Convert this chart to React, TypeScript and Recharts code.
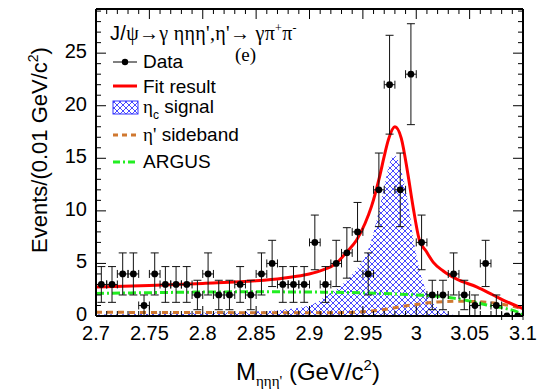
import React from 'react'
import { ComposedChart, XAxis, YAxis, Line, Area, Scatter, ErrorBar } from 'recharts'

// measured data (bin width 0.01 GeV/c^2)
const binCenters = [
    2.705, 2.715, 2.725, 2.735, 2.745, 2.755, 2.765, 2.775, 2.785, 2.795,
    2.805, 2.815, 2.825, 2.835, 2.845, 2.855, 2.865, 2.875, 2.885, 2.895,
    2.905, 2.915, 2.925, 2.935, 2.945, 2.955, 2.965, 2.975, 2.985, 2.995,
    3.005, 3.015, 3.025, 3.035, 3.045, 3.055, 3.065, 3.075, 3.085, 3.095
]
const counts = [
    3, 3, 4, 4, 1, 4, 3, 3, 3, 2,
    4, 2, 2, 3, 2, 4, 5, 3, 3, 3,
    7, 3, 5, 6, 8, 4, 12, 22, 12, 23,
    7, 2, 2, 4, 2, 1, 5, 1, 0, 0
]
const countErrors = [
    1.7, 1.7, 2, 2, 1, 2, 1.7, 1.7, 1.7, 1.4,
    2, 1.4, 1.4, 1.7, 1.4, 2, 2.2, 1.7, 1.7, 1.7,
    2.6, 1.7, 2.2, 2.4, 2.8, 2, 3.5, 4.7, 3.5, 4.8,
    2.6, 1.4, 1.4, 2, 1.4, 1, 2.2, 1, 0, 0
]
const binHalfWidth = 0.005

// fit components
const fitX = [2.7, 2.75, 2.8, 2.85, 2.875, 2.895, 2.91, 2.925, 2.935, 2.944, 2.952, 2.958, 2.966, 2.97, 2.974, 2.98, 2.986, 2.992, 2.997, 3.003, 3.009, 3.016, 3.025, 3.038, 3.057, 3.072, 3.085, 3.1]
const fitY = [2.75, 2.9, 3.1, 3.35, 3.6, 3.9, 4.3, 5.0, 6.1, 7.2, 8.8, 10.4, 13.4, 15.2, 16.8, 18.0, 16.9, 13.6, 10.4, 7.2, 6.2, 5.1, 4.3, 3.5, 2.75, 2.0, 1.35, 0.7]

const signalX = [2.7, 2.75, 2.8, 2.84, 2.875, 2.9, 2.92, 2.935, 2.945, 2.952, 2.958, 2.965, 2.97, 2.975, 2.979, 2.983, 2.9865, 2.993, 2.9975, 3.004, 3.01, 3.019, 3.027, 3.035, 3.05, 3.1]
const signalY = [0.15, 0.2, 0.3, 0.4, 0.6, 1.0, 2.2, 3.4, 4.6, 5.6, 7.2, 10.0, 12.3, 14.5, 15.3, 14.8, 13.6, 10.4, 7.2, 4.1, 2.2, 0.9, 0.4, 0.1, 0, 0]

const sidebandX = [2.7, 2.8, 2.9, 2.93, 2.95, 2.97, 2.985, 3.0, 3.02, 3.04, 3.06, 3.08, 3.1]
const sidebandY = [0.35, 0.33, 0.3, 0.32, 0.4, 0.62, 0.88, 1.1, 1.33, 1.4, 1.35, 1.12, 0.7]

const argusX = [2.7, 2.75, 2.8, 2.85, 2.9, 2.95, 3.0, 3.02, 3.035, 3.05, 3.066, 3.085, 3.095, 3.1]
const argusY = [2.15, 2.22, 2.28, 2.3, 2.28, 2.2, 2.0, 1.88, 1.7, 1.42, 1.05, 0.68, 0.38, 0.05]

const xMajorTicks = [2.7, 2.75, 2.8, 2.85, 2.9, 2.95, 3.0, 3.05, 3.1]
const xTickLabels = ['2.7', '2.75', '2.8', '2.85', '2.9', '2.95', '3', '3.05', '3.1']
const yMajorTicks = [0, 5, 10, 15, 20, 25]
const yTickLabels = ['0', '5', '10', '15', '20', '25']

const X_DOMAIN: [number, number] = [2.7, 3.1]
const Y_DOMAIN: [number, number] = [0, 29.2]

// minor ticks every 0.01 in x and every 1 in y
const xTicks = Array.from({ length: 41 }, (_, i) => Math.round((2.7 + i * 0.01) * 1000) / 1000)
const yTicks = Array.from({ length: 30 }, (_, i) => i)

const SANS = '"Liberation Sans", Arial, Helvetica, sans-serif'
const SERIF = '"Liberation Serif", "Times New Roman", serif'
const RED = '#ff0000'
const ORANGE = '#d07830'
const GREEN = '#22ee22'
const BLUE = '#3535ff'

type Row = { x: number; fit?: number; signal?: number; sideband?: number; argus?: number }

function buildCurveRows(): Row[] {
    const rows = new Map<number, Row>()
    const put = (xs: number[], ys: number[], key: 'fit' | 'signal' | 'sideband' | 'argus') => {
        xs.forEach((x, i) => {
            const r = rows.get(x) ?? { x }
            r[key] = ys[i]
            rows.set(x, r)
        })
    }
    put(fitX, fitY, 'fit')
    put(signalX, signalY, 'signal')
    put(sidebandX, sidebandY, 'sideband')
    put(argusX, argusY, 'argus')
    return [...rows.values()].sort((a, b) => a.x - b.x)
}

const curveRows = buildCurveRows()
const points = binCenters.map((x, i) => ({ x, y: counts[i], ey: countErrors[i], ex: binHalfWidth }))

function renderXTick(props: any, side: 'bottom' | 'top') {
    const { x, y, payload } = props
    const v = payload.value
    const majorIdx = xMajorTicks.findIndex(t => Math.abs(t - v) < 1e-6)
    const len = majorIdx >= 0 ? 10 : 5
    const dir = side === 'bottom' ? -1 : 1
    return (
        <g>
            <line x1={x} x2={x} y1={y} y2={y + dir * len} stroke="#000" strokeWidth={1} />
            {side === 'bottom' && majorIdx >= 0 && (
                <text x={x} y={y + 24} textAnchor="middle" fontSize={20} fontFamily={SANS} fill="#000">
                    {xTickLabels[majorIdx]}
                </text>
            )}
        </g>
    )
}

function renderYTick(props: any, side: 'left' | 'right') {
    const { x, y, payload } = props
    const v = payload.value
    const majorIdx = yMajorTicks.indexOf(v)
    const len = majorIdx >= 0 ? 10 : 5
    const dir = side === 'left' ? 1 : -1
    return (
        <g>
            <line x1={x} x2={x + dir * len} y1={y} y2={y} stroke="#000" strokeWidth={1} />
            {side === 'left' && majorIdx >= 0 && (
                <text x={x - 9} y={y + 5} textAnchor="end" fontSize={20} fontFamily={SANS} fill="#000">
                    {yTickLabels[majorIdx]}
                </text>
            )}
        </g>
    )
}

const DataDot = (props: any) => <circle cx={props.cx} cy={props.cy} r={3.4} fill="#000" />

function Overlay() {
    return (
        <svg width={537} height={390} style={{ position: 'absolute', left: 0, top: 0, pointerEvents: 'none' }}>
            <defs>
                <pattern id="legendHatch" patternUnits="userSpaceOnUse" width={6} height={6}>
                    <path d="M0,0 L6,6 M6,0 L0,6" stroke={BLUE} strokeWidth={0.9} />
                </pattern>
            </defs>

            {/* header */}
            <text x={110} y={40} fontSize={20} fontFamily={SERIF} fill="#000" letterSpacing={0.3}>
                <tspan fontFamily={SANS}>J/</tspan>ψ<tspan fontFamily={SANS}>→</tspan>γ ηηη',η'<tspan fontFamily={SANS}>→</tspan> γπ
                <tspan fontSize={12} dy={-8}>+</tspan>
                <tspan dy={8}>π</tspan>
                <tspan fontSize={12} dy={-8}>-</tspan>
            </text>
            <text x={235} y={61} fontSize={19} fontFamily={SERIF} fill="#000">(e)</text>

            {/* legend */}
            <line x1={113} x2={137} y1={62} y2={62} stroke="#000" strokeWidth={1} />
            <circle cx={125} cy={62} r={3.2} fill="#000" />
            <text x={143} y={68} fontSize={19} fontFamily={SANS} fill="#000">Data</text>

            <line x1={113} x2={137} y1={86} y2={86} stroke={RED} strokeWidth={3} />
            <text x={143} y={93} fontSize={19} fontFamily={SANS} fill="#000">Fit result</text>

            <rect x={113} y={101} width={25} height={13} fill="url(#legendHatch)" stroke={BLUE} strokeWidth={1} />
            <text x={143} y={113} fontSize={19} fontFamily={SANS} fill="#000">
                <tspan fontFamily={SERIF}>η</tspan>
                <tspan fontSize={12} dy={6}>c</tspan>
                <tspan dy={-6}> signal</tspan>
            </text>

            <line x1={113} x2={137} y1={135} y2={135} stroke={ORANGE} strokeWidth={3} strokeDasharray="5 4" />
            <text x={143} y={141} fontSize={19} fontFamily={SANS} fill="#000">
                <tspan fontFamily={SERIF}>η'</tspan> sideband
            </text>

            <line x1={113} x2={137} y1={162} y2={162} stroke={GREEN} strokeWidth={3} strokeDasharray="7 3 2 3" />
            <text x={143} y={168} fontSize={19} fontFamily={SANS} fill="#000">ARGUS</text>

            {/* axis titles */}
            <text x={236} y={380} fontSize={24} fontFamily={SANS} fill="#000">
                M<tspan fontSize={15} dy={6} fontFamily={SERIF}>ηηη'</tspan>
                <tspan dy={-6}> (GeV/c</tspan>
                <tspan fontSize={15} dy={-10}>2</tspan>
                <tspan dy={10}>)</tspan>
            </text>
            <text
                transform="translate(47,150) rotate(-90)"
                textAnchor="middle"
                fontSize={22}
                fontFamily={SANS}
                fill="#000"
            >
                Events/(0.01 GeV/c<tspan fontSize={14} dy={-9}>2</tspan>
                <tspan dy={9}>)</tspan>
            </text>
        </svg>
    )
}

export default function App() {
    return (
        <div style={{ position: 'absolute', left: 0, top: 0, width: 537, height: 390, background: '#fff' }}>
            <ComposedChart
                width={537}
                height={390}
                data={curveRows}
                margin={{ top: 8, right: 13, bottom: 73, left: 95 }}
            >
                <defs>
                    <pattern id="signalHatch" patternUnits="userSpaceOnUse" width={6} height={6}>
                        <path d="M0,0 L6,6 M6,0 L0,6" stroke={BLUE} strokeWidth={0.9} />
                    </pattern>
                </defs>
                <XAxis
                    dataKey="x"
                    type="number"
                    domain={X_DOMAIN}
                    allowDataOverflow
                    ticks={xTicks}
                    interval={0}
                    height={1}
                    tickSize={0}
                    tickMargin={0}
                    tickLine={false}
                    axisLine={{ stroke: '#000', strokeWidth: 2 }}
                    tick={(p: any) => renderXTick(p, 'bottom')}
                />
                <XAxis
                    xAxisId="top"
                    orientation="top"
                    dataKey="x"
                    type="number"
                    domain={X_DOMAIN}
                    allowDataOverflow
                    ticks={xTicks}
                    interval={0}
                    height={1}
                    tickSize={0}
                    tickMargin={0}
                    tickLine={false}
                    axisLine={{ stroke: '#000', strokeWidth: 2 }}
                    tick={(p: any) => renderXTick(p, 'top')}
                />
                <YAxis
                    type="number"
                    domain={Y_DOMAIN}
                    allowDataOverflow
                    ticks={yTicks}
                    interval={0}
                    width={1}
                    tickSize={0}
                    tickMargin={0}
                    tickLine={false}
                    axisLine={{ stroke: '#000', strokeWidth: 2 }}
                    tick={(p: any) => renderYTick(p, 'left')}
                />
                <YAxis
                    yAxisId="right"
                    orientation="right"
                    type="number"
                    domain={Y_DOMAIN}
                    allowDataOverflow
                    ticks={yTicks}
                    interval={0}
                    width={1}
                    tickSize={0}
                    tickMargin={0}
                    tickLine={false}
                    axisLine={{ stroke: '#000', strokeWidth: 2 }}
                    tick={(p: any) => renderYTick(p, 'right')}
                />
                <Area
                    dataKey="signal"
                    type="monotone"
                    fill="url(#signalHatch)"
                    fillOpacity={1}
                    stroke="none"
                    connectNulls
                    isAnimationActive={false}
                />
                <Line dataKey="sideband" type="monotone" stroke={ORANGE} strokeWidth={3} strokeDasharray="6 5" dot={false} connectNulls isAnimationActive={false} />
                <Line dataKey="argus" type="monotone" stroke={GREEN} strokeWidth={3} strokeDasharray="8 3 2 3" dot={false} connectNulls isAnimationActive={false} />
                <Line dataKey="fit" type="monotone" stroke={RED} strokeWidth={3} dot={false} connectNulls isAnimationActive={false} />
                <Scatter data={points} dataKey="y" shape={DataDot} isAnimationActive={false}>
                    <ErrorBar dataKey="ey" direction="y" width={4} stroke="#111" strokeWidth={1} isAnimationActive={false} />
                    <ErrorBar dataKey="ex" direction="x" width={4} stroke="#111" strokeWidth={1} isAnimationActive={false} />
                </Scatter>
            </ComposedChart>
            <Overlay />
        </div>
    )
}
